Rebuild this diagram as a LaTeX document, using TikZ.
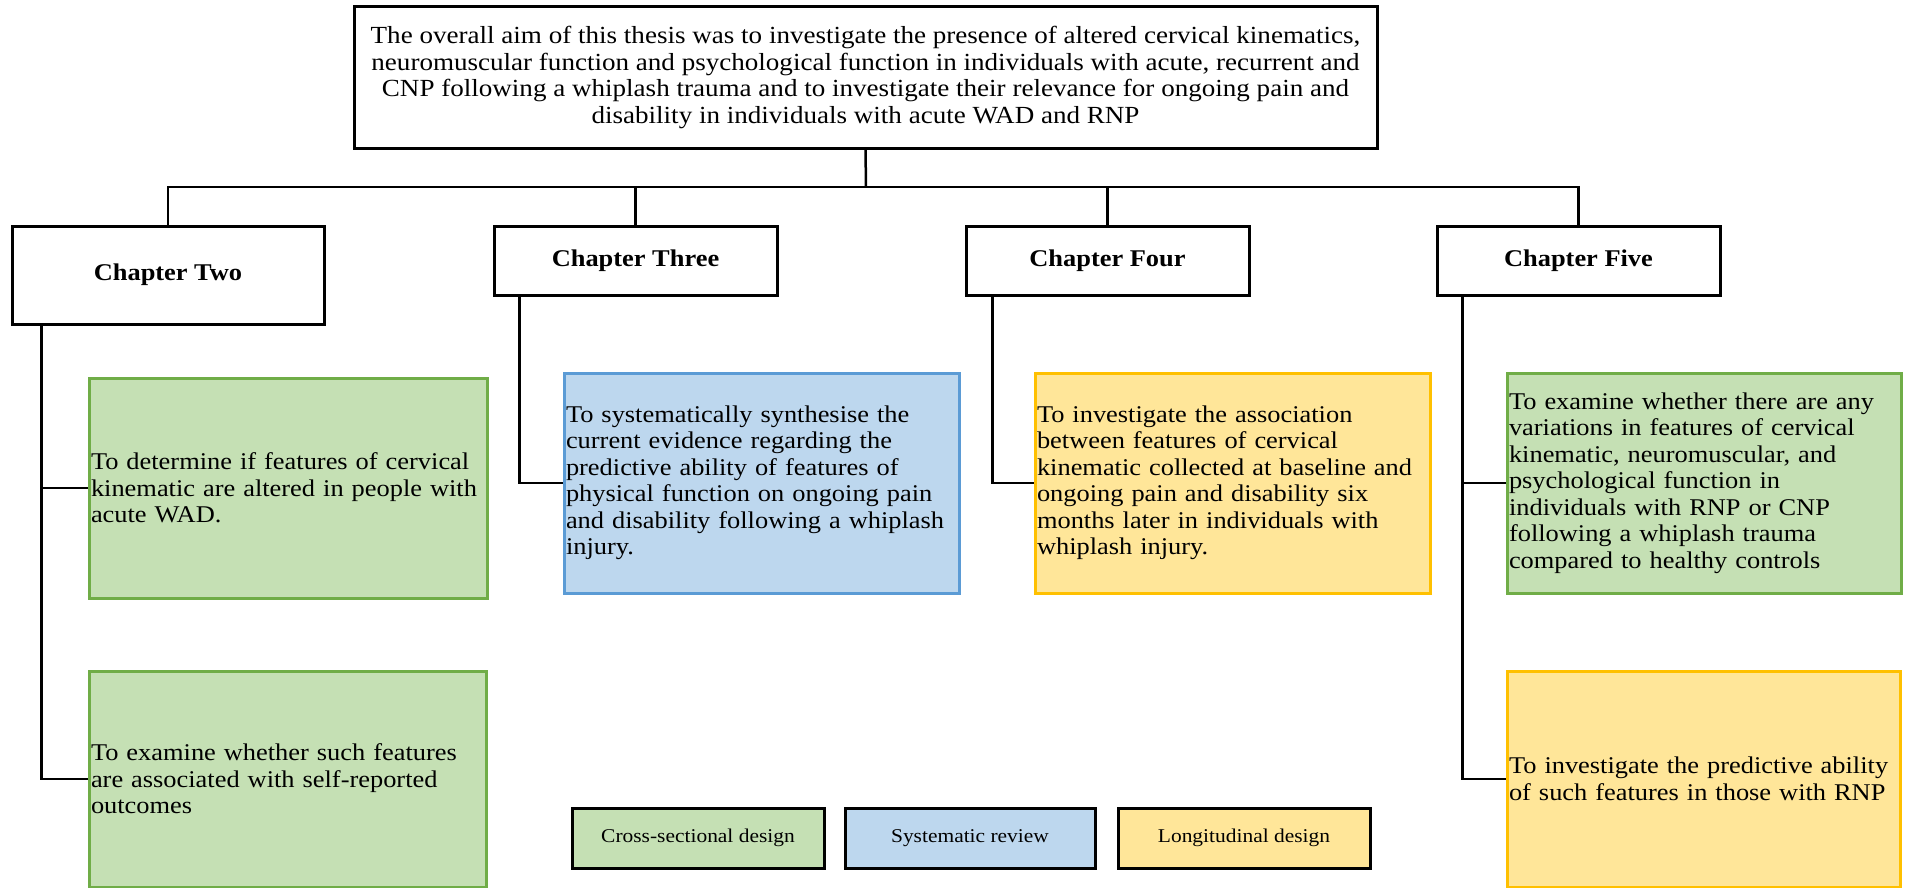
\documentclass[tikz,border=0pt]{standalone}
\usepackage{fontspec}
\setmainfont{Liberation Serif}[FakeStretch=1.1]
\definecolor{cgreen}{HTML}{C5E0B4}
\definecolor{cgreenD}{HTML}{70AD47}
\definecolor{cblue}{HTML}{BDD7EE}
\definecolor{cblueD}{HTML}{5B9BD5}
\definecolor{cyel}{HTML}{FFE699}
\definecolor{cyelD}{HTML}{FFC000}
\begin{document}
\begin{tikzpicture}[x=1pt,y=-1pt,
  blackbox/.style={rectangle, draw=black, line width=3pt, fill=white, inner sep=0pt},
  aimbox/.style={blackbox, minimum width=1023pt, minimum height=141pt, align=center,
    font=\fontsize{24.6}{26.7}\selectfont},
  chapbox/.style={blackbox, minimum width=283pt, minimum height=69pt,
    font=\fontsize{24}{27}\selectfont\bfseries},
  content/.style={rectangle, line width=3pt, inner xsep=2pt, inner ysep=0pt,
    text width=391pt, align=left, minimum height=220pt,
    font=\fontsize{24}{26.5}\selectfont},
  greenbox/.style={content, draw=cgreenD, fill=cgreen},
  bluebox/.style={content, draw=cblueD, fill=cblue},
  yelbox/.style={content, draw=cyelD, fill=cyel},
  legbox/.style={rectangle, draw=black, line width=3pt, minimum width=252pt,
    minimum height=60pt, inner sep=0pt, font=\fontsize{19.5}{22}\selectfont},
  link/.style={draw=black, line width=2.5pt}
]
\useasboundingbox (0,0) rectangle (1905,888);

% top aim
\node[aimbox] (aim) at (865.5,77.5) {The overall aim of this thesis was to investigate the presence of altered cervical kinematics,\\
neuromuscular function and psychological function in individuals with acute, recurrent and\\
CNP following a whiplash trauma and to investigate their relevance for ongoing pain and\\
disability in individuals with acute WAD and RNP};

% chapters
\node[chapbox, minimum width=312pt, minimum height=98pt] (ch2) at (168,275) {Chapter Two};
\node[chapbox] (ch3) at (635.5,260.5) {Chapter Three};
\node[chapbox] (ch4) at (1107.5,260.5) {Chapter Four};
\node[chapbox] (ch5) at (1578.5,260.5) {Chapter Five};

% content boxes
\node[greenbox, text width=394pt] (g1) at (288,488) {To determine if features of cervical\\kinematic are altered in people with\\acute WAD.};
\node[greenbox, text width=393pt, minimum height=216pt] (g2) at (287.5,779) {To examine whether such features\\are associated with self-reported\\outcomes};
\node[bluebox] (b1) at (761.5,483) {To systematically synthesise the\\current evidence regarding the\\predictive ability of features of\\physical function on ongoing pain\\and disability following a whiplash\\injury.};
\node[yelbox] (y1) at (1232.5,483) {To investigate the association\\between features of cervical\\kinematic collected at baseline and\\ongoing pain and disability six\\months later in individuals with\\whiplash injury.};
\node[greenbox, text width=390pt] (g3) at (1704,483) {To examine whether there are any\\variations in features of cervical\\kinematic, neuromuscular, and\\psychological function in\\individuals with RNP or CNP\\following a whiplash trauma\\compared to healthy controls};
\node[yelbox, text width=389pt, minimum height=216pt] (y2) at (1703.5,779) {To investigate the predictive ability\\of such features in those with RNP};

% legend
\node[legbox, fill=cgreen] (l1) at (698,838) {\raisebox{5pt}{Cross-sectional design}};
\node[legbox, fill=cblue, minimum width=250pt] (l2) at (970,838) {Systematic review};
\node[legbox, fill=cyel] (l3) at (1244,838) {Longitudinal design};

% connectors
\coordinate (bus) at (866,187);
\draw[link] (aim.south) -- (bus);
\draw[link] (ch2.north) |- (bus) -| (ch5.north);
\draw[link] (ch3.north) -- (ch3.north |- bus);
\draw[link] (ch4.north) -- (ch4.north |- bus);

\coordinate (d2) at ([xshift=31pt]ch2.south west);
\coordinate (d3) at ([xshift=27pt]ch3.south west);
\coordinate (d4) at ([xshift=28pt]ch4.south west);
\coordinate (d5) at ([xshift=27pt]ch5.south west);
\draw[link] (d2) |- (g1.west);
\draw[link] (d2) |- (g2.west);
\draw[link] (d3) |- (b1.west);
\draw[link] (d4) |- (y1.west);
\draw[link] (d5) |- (g3.west);
\draw[link] (d5) |- (y2.west);
\end{tikzpicture}
\end{document}
